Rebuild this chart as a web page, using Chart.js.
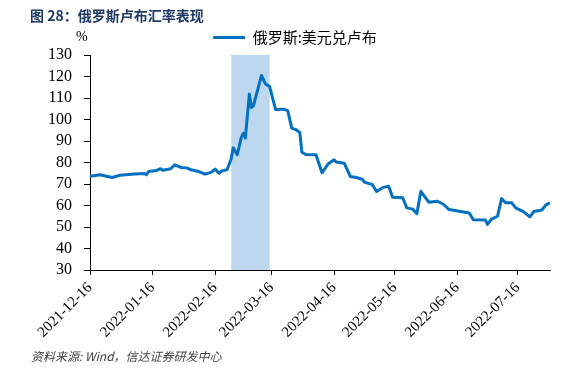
<!DOCTYPE html>
<html>
<head>
<meta charset="utf-8">
<script src="https://cdn.jsdelivr.net/npm/chart.js@4.4.1/dist/chart.umd.min.js"></script>
<style>
  html, body { margin: 0; padding: 0; background: #fff; }
  #quadro { position: relative; width: 563px; height: 370px; }
  #grafico { position: absolute; left: 0; top: 0; }
  #titulo { position: absolute; left: 30px; top: 5px; font: bold 14px "Noto Sans CJK SC"; color: #1f3864; white-space: nowrap; }
  #unidade { position: absolute; left: 76px; top: 29px; font: 14px "Liberation Serif"; color: #000; }
  #fonte { position: absolute; left: 31px; top: 347px; font: italic 12px "Noto Sans CJK SC"; color: #404040; white-space: nowrap; }
</style>
</head>
<body>
<div id="quadro">
  <canvas id="grafico" width="563" height="370"></canvas>
  <div id="titulo">图 28：俄罗斯卢布汇率表现</div>
  <div id="unidade">%</div>
  <div id="fonte">资料来源: Wind，信达证券研发中心</div>
</div>
<script>
const rotulosX = ['2021-12-16', '2022-01-16', '2022-02-16', '2022-03-16', '2022-04-16', '2022-05-16', '2022-06-16', '2022-07-16'];
const ultimaData = '2022-08-01';
const faixaInicio = '2022-02-24';
const faixaFim = '2022-03-15';
const limitesY = [30, 130, 10];
const nomeSerie = '俄罗斯:美元兑卢布';

const datas = [
  '2021-12-16', '2021-12-21', '2021-12-27', '2021-12-31', '2022-01-07', '2022-01-12', '2022-01-13', '2022-01-14',
  '2022-01-18', '2022-01-20', '2022-01-21', '2022-01-25', '2022-01-27', '2022-01-30', '2022-02-02', '2022-02-04',
  '2022-02-08', '2022-02-11', '2022-02-14', '2022-02-16', '2022-02-18', '2022-02-19', '2022-02-22', '2022-02-24',
  '2022-02-25', '2022-02-27', '2022-03-01', '2022-03-02', '2022-03-03', '2022-03-05', '2022-03-06', '2022-03-07',
  '2022-03-11', '2022-03-13', '2022-03-15', '2022-03-18', '2022-03-22', '2022-03-24', '2022-03-26', '2022-03-28',
  '2022-03-30', '2022-03-31', '2022-04-02', '2022-04-07', '2022-04-10', '2022-04-13', '2022-04-16', '2022-04-17',
  '2022-04-21', '2022-04-24', '2022-04-27', '2022-04-30', '2022-05-01', '2022-05-05', '2022-05-07', '2022-05-10',
  '2022-05-13', '2022-05-15', '2022-05-20', '2022-05-22', '2022-05-25', '2022-05-27', '2022-05-29', '2022-06-02',
  '2022-06-06', '2022-06-09', '2022-06-12', '2022-06-17', '2022-06-22', '2022-06-24', '2022-06-30', '2022-07-01',
  '2022-07-03', '2022-07-06', '2022-07-08', '2022-07-10', '2022-07-13', '2022-07-15', '2022-07-19', '2022-07-22',
  '2022-07-24', '2022-07-28', '2022-07-30', '2022-08-01'
];

const cotacao = [
  73.6, 74.3, 73.0, 74.1, 74.6, 74.9, 74.3, 75.8,
  76.3, 77.1, 76.4, 77.1, 78.9, 77.7, 77.5, 76.6,
  75.8, 74.6, 75.4, 76.9, 75.0, 75.9, 76.7, 81.7,
  86.8, 83.6, 91.7, 93.6, 91.4, 111.8, 105.6, 106.4,
  120.5, 116.5, 115.4, 104.6, 104.8, 104.1, 96.0, 95.3,
  94.0, 84.8, 83.7, 83.6, 75.2, 79.3, 81.3, 80.2,
  79.7, 73.5, 73.0, 72.2, 70.9, 69.7, 66.5, 68.3,
  69.0, 63.8, 63.6, 58.9, 58.3, 56.2, 66.6, 61.5,
  62.0, 60.7, 58.1, 57.3, 56.5, 53.4, 53.2, 51.2,
  53.7, 55.0, 63.2, 61.3, 61.3, 58.9, 57.0, 54.7,
  57.2, 57.9, 60.3, 61.3
];

function diasDesde(data) {
  return (Date.parse(data) - Date.parse(rotulosX[0])) / 86400000;
}

// faixa azul do periodo destacado, desenhada antes dos eixos
const pluginFaixa = {
  id: 'faixa',
  beforeDraw(chart) {
    const { ctx, chartArea, scales } = chart;
    const x1 = scales.x.getPixelForValue(diasDesde(faixaInicio));
    const x2 = scales.x.getPixelForValue(diasDesde(faixaFim));
    ctx.save();
    ctx.fillStyle = '#bdd7ee';
    ctx.fillRect(x1, chartArea.top, x2 - x1, chartArea.bottom - chartArea.top);
    ctx.restore();
  }
};

document.addEventListener('DOMContentLoaded', function() {
  inicializarGrafico();
});

function inicializarGrafico() {
  const ctx = document.getElementById('grafico').getContext('2d');
  new Chart(ctx, {
    type: 'line',
    data: {
      datasets: [{
        label: nomeSerie,
        data: datas.map((d, i) => ({ x: diasDesde(d), y: cotacao[i] })),
        borderColor: '#0070c0',
        backgroundColor: '#0070c0',
        borderWidth: 3,
        pointRadius: 0,
        tension: 0,
        borderJoinStyle: 'round',
        fill: false
      }]
    },
    options: {
      responsive: false,
      animation: false,
      layout: {
        padding: { left: 40, right: 13, top: 20, bottom: 0 }
      },
      plugins: {
        legend: {
          display: true,
          position: 'top',
          labels: {
            usePointStyle: true,
            pointStyle: 'line',
            pointStyleWidth: 32,
            color: '#000',
            padding: 10,
            font: { family: 'Noto Sans CJK SC', size: 15 }
          }
        },
        tooltip: { enabled: false }
      },
      scales: {
        x: {
          type: 'linear',
          min: 0,
          max: diasDesde(ultimaData),
          afterBuildTicks: function(eixo) {
            eixo.ticks = rotulosX.map(r => ({ value: diasDesde(r) }));
          },
          afterFit: function(eixo) {
            eixo.height = 100;
          },
          grid: {
            display: true,
            drawOnChartArea: false,
            drawTicks: true,
            tickLength: 5,
            color: '#000'
          },
          border: { display: true, color: '#000', width: 1 },
          ticks: {
            autoSkip: false,
            minRotation: 45,
            maxRotation: 45,
            padding: 4,
            color: '#000',
            font: { family: 'Liberation Serif', size: 15 },
            callback: function(valor) {
              const r = rotulosX.find(d => diasDesde(d) === valor);
              return r || '';
            }
          }
        },
        y: {
          min: limitesY[0],
          max: limitesY[1],
          afterFit: function(eixo) {
            eixo.width = 50;
          },
          grid: {
            display: true,
            drawOnChartArea: false,
            drawTicks: true,
            tickLength: 6,
            color: '#000'
          },
          border: { display: true, color: '#000', width: 1 },
          ticks: {
            autoSkip: false,
            stepSize: limitesY[2],
            padding: 12,
            color: '#000',
            font: { family: 'Liberation Serif', size: 16 }
          }
        }
      }
    },
    plugins: [pluginFaixa]
  });
}
</script>
</body>
</html>
